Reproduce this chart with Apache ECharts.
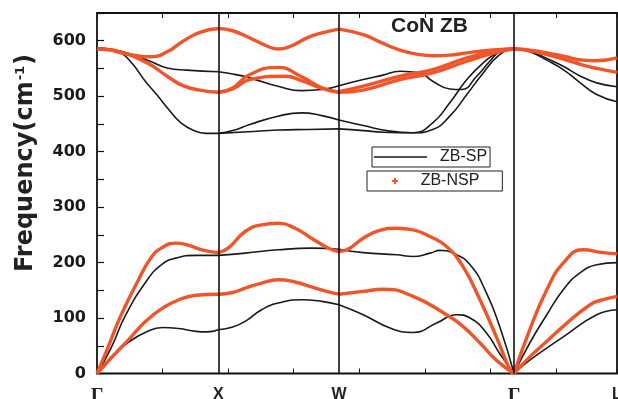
<!DOCTYPE html>
<html>
<head>
<meta charset="utf-8">
<script src="https://cdn.jsdelivr.net/npm/echarts@6/dist/echarts.min.js"></script>
<style>html,body{margin:0;padding:0;background:#fff}#c{width:618px;height:399px}</style>
</head>
<body>
<div id="c"></div>
<script>
// high-symmetry points along the k-path
const KPOS = [0, 1.85, 3.69, 6.36, 7.93];
const KLABELS = ['Γ', 'X', 'W', 'Γ', 'L'];
const Y_LABELS = [0, 100, 200, 300, 400, 500, 600];

// ZB-SP (black) branches, per path segment: [k, frequency cm^-1]
const SP_GX = [
  [[0,0],[0.24,33],[0.49,57],[0.75,75],[1.00,83],[1.25,81],[1.51,76],[1.68,75],[1.85,79]],
  [[0,0],[0.21,45],[0.44,106],[0.75,166],[0.98,196],[1.20,208],[1.51,213],[1.85,213]],
  [[0,587],[0.20,585],[0.37,578],[0.55,557],[0.73,528],[0.91,503],[1.10,475],[1.28,452],[1.48,438],[1.66,433],[1.85,433]],
  [[0,587],[0.37,581],[0.81,563],[1.07,551],[1.37,547],[1.85,544]]
];
const SP_XW = [
  [[1.85,79],[2.07,84],[2.26,94],[2.51,115],[2.76,127],[3.12,133],[3.43,130],[3.69,124]],
  [[1.85,213],[2.26,217],[2.76,223],[3.27,226],[3.69,224]],
  [[1.85,433],[2.30,436],[2.76,439],[3.22,440],[3.69,441]],
  [[1.85,433],[2.07,438],[2.33,449],[2.76,464],[3.12,470],[3.43,465],[3.69,457]],
  [[1.85,544],[2.07,540],[2.33,533],[2.76,518],[3.12,510],[3.43,512],[3.69,519]]
];
const SP_WG = [
  [[3.69,124],[4.06,106],[4.47,82],[4.82,74],[5.18,91],[5.48,106],[5.69,100],[5.94,73],[6.14,36],[6.36,0]],
  [[3.69,224],[4.06,218],[4.57,214],[4.82,211],[5.08,217],[5.23,222],[5.43,217],[5.69,196],[5.94,145],[6.14,85],[6.36,0]],
  [[3.69,441],[4.06,438],[4.36,435],[4.82,434],[5.12,440],[5.38,464],[5.64,503],[5.89,542],[6.14,575],[6.36,587]],
  [[3.69,457],[4.06,447],[4.47,437],[4.82,434],[5.12,452],[5.38,488],[5.64,530],[5.89,560],[6.14,581],[6.36,587]],
  [[3.69,519],[4.06,530],[4.36,538],[4.62,545],[4.92,542],[5.12,527],[5.38,513],[5.56,512],[5.79,536],[5.99,563],[6.14,580],[6.36,587]]
];
const SP_GL = [
  [[6.36,0],[6.60,24],[7.11,66],[7.62,106],[7.93,115]],
  [[6.36,0],[6.60,55],[6.86,106],[7.11,151],[7.36,181],[7.62,196],[7.93,200]],
  [[6.36,587],[6.60,580],[6.86,565],[7.11,548],[7.36,525],[7.62,503],[7.93,490]],
  [[6.36,587],[6.60,582],[6.86,568],[7.11,554],[7.36,537],[7.62,524],[7.93,517]]
];

// ZB-NSP (red) branches
const NSP_GX = [
  [[0,0],[0.24,31],[0.49,62],[0.75,95],[1.00,118],[1.25,133],[1.51,141],[1.85,143]],
  [[0,0],[0.16,45],[0.37,106],[0.62,166],[0.82,208],[0.98,226],[1.20,235],[1.40,231],[1.60,223],[1.85,218]],
  [[0,585],[0.20,584],[0.37,579],[0.55,572],[0.81,557],[1.07,536],[1.31,519],[1.57,511],[1.85,507]],
  [[0,585],[0.20,583],[0.37,578],[0.55,574],[0.81,571],[1.07,580],[1.31,599],[1.57,615],[1.85,622]]
];
const NSP_XW = [
  [[1.85,143],[2.07,146],[2.26,154],[2.51,163],[2.76,169],[3.02,165],[3.27,156],[3.53,147],[3.69,143]],
  [[1.85,218],[2.00,226],[2.26,256],[2.51,268],[2.76,271],[3.02,262],[3.27,244],[3.53,226],[3.69,220]],
  [[1.85,507],[2.07,515],[2.33,539],[2.76,552],[3.12,535],[3.43,515],[3.69,507]],
  [[1.85,507],[2.07,513],[2.33,530],[2.87,536],[3.12,528],[3.43,514],[3.69,507]],
  [[1.85,622],[2.07,618],[2.33,605],[2.60,590],[2.76,585],[2.95,590],[3.22,606],[3.43,614],[3.69,621]]
];
const NSP_WG = [
  [[3.69,143],[4.06,148],[4.36,152],[4.82,139],[5.33,106],[5.58,85],[5.84,55],[6.09,24],[6.36,0]],
  [[3.69,220],[3.81,223],[4.06,244],[4.31,258],[4.57,262],[4.82,259],[5.08,247],[5.33,229],[5.58,193],[5.84,133],[6.09,66],[6.30,6],[6.36,0]],
  [[3.69,508],[4.06,518],[4.62,536],[5.12,548],[5.64,569],[6.09,582],[6.36,585]],
  [[3.69,507],[4.06,511],[4.62,530],[5.12,542],[5.64,563],[6.09,579],[6.36,585]],
  [[3.69,621],[4.06,611],[4.31,598],[4.62,583],[4.92,575],[5.12,573],[5.38,574],[5.64,578],[6.09,584],[6.36,585]]
];
const NSP_GL = [
  [[6.36,0],[6.60,30],[6.86,58],[7.11,85],[7.52,124],[7.72,133],[7.93,139]],
  [[6.36,0],[6.60,79],[6.86,151],[7.11,199],[7.41,223],[7.72,218],[7.93,216]],
  [[6.36,585],[6.60,583],[6.86,578],[7.11,572],[7.41,565],[7.62,564],[7.93,569]],
  [[6.36,585],[6.60,582],[6.86,575],[7.11,567],[7.41,556],[7.62,550],[7.93,543]]
];

const BLACK = '#1a1a1a';
const RED = '#f2542a';
const PLUS = 'path://M2,0H4V2H6V4H4V6H2V4H0V2H2Z';

const series = [];
function addBranches(groups, name, color, width, z) {
  groups.forEach(g => g.forEach(b => series.push({
    type: 'line', name: name, data: b, smooth: 0.5, symbol: 'none',
    lineStyle: { color: color, width: width }, itemStyle: { color: color },
    z: z, silent: true
  })));
}
addBranches([SP_GX, SP_XW, SP_WG, SP_GL], 'ZB-SP', BLACK, 1.6, 3);
addBranches([NSP_GX, NSP_XW, NSP_WG, NSP_GL], 'ZB-NSP', RED, 3.4, 4);

series[0].markLine = {
  silent: true, symbol: ['none', 'none'], animation: false,
  label: { show: false },
  lineStyle: { color: '#111', width: 1.6, type: 'solid' },
  data: KPOS.slice(1, 4).map(k => ({ xAxis: k }))
};

const chart = echarts.init(document.getElementById('c'), null, { renderer: 'canvas' });
chart.setOption({
  animation: false,
  backgroundColor: '#fff',
  title: {
    text: 'CoN ZB', left: 391, top: 16, padding: 0,
    textStyle: { fontFamily: 'Liberation Sans', fontWeight: 'bold', fontSize: 21, color: '#222' }
  },
  grid: { left: 97, right: 1, top: 13, bottom: 25.5, containLabel: false, outerBoundsMode: 'none',
    show: true, borderColor: '#111', borderWidth: 1.8, backgroundColor: 'transparent' },
  legend: [
    {
      data: [{ name: 'ZB-SP', icon: 'rect' }], left: 372, top: 147, selectedMode: false,
      borderColor: '#222', borderWidth: 1, padding: [2, 3, 2, 2],
      itemWidth: 53, itemHeight: 1.6,
      formatter: '{t|{name}}',
      textStyle: { color: '#222', fontFamily: 'Liberation Sans', fontSize: 16,
        rich: { t: { width: 63, height: 15, align: 'center', fontFamily: 'Liberation Sans', fontSize: 16, color: '#222' } } }
    },
    {
      data: [{ name: 'ZB-NSP', icon: PLUS }], left: 367, top: 171, selectedMode: false,
      borderColor: '#222', borderWidth: 1, padding: [2, 23, 2, 25],
      itemWidth: 6, itemHeight: 6,
      formatter: '{t|{name}}',
      textStyle: { color: '#222', fontFamily: 'Liberation Sans', fontSize: 16,
        rich: { t: { width: 94, height: 15, align: 'center', fontFamily: 'Liberation Sans', fontSize: 16, color: '#222' } } }
    }
  ],
  xAxis: [
    {
      type: 'value', min: 0, max: 7.93, interval: 1, position: 'bottom',
      axisLine: { show: false }, splitLine: { show: false },
      axisTick: { show: true, inside: true, length: 5, lineStyle: { color: '#111', width: 1 } },
      axisLabel: {
        customValues: KPOS, margin: 13,
        formatter: function (v) {
          let idx = 0, best = 1e9;
          KPOS.forEach((k, i) => { const d = Math.abs(k - v); if (d < best) { best = d; idx = i; } });
          const s = KLABELS[idx];
          return s === 'Γ' ? '{g|' + s + '}' : '{s|' + s + '}';
        },
        rich: {
          g: { fontFamily: 'Liberation Serif', fontWeight: 'bold', fontSize: 20, color: '#222' },
          s: { fontFamily: 'Liberation Sans', fontWeight: 'bold', fontSize: 16, color: '#222' }
        }
      }
    },
    {
      type: 'value', min: 0, max: 7.93, interval: 1, position: 'top',
      axisLine: { show: false }, splitLine: { show: false }, axisLabel: { show: false },
      axisTick: { show: true, inside: true, length: 5, lineStyle: { color: '#111', width: 1 } }
    }
  ],
  yAxis: {
    type: 'value', min: 0, max: 650, interval: 50,
    axisLine: { show: false }, splitLine: { show: false },
    axisTick: { show: true, inside: true, length: 7, lineStyle: { color: '#111', width: 1.2 } },
    axisLabel: {
      margin: 11, color: '#1a1a1a', fontFamily: 'DejaVu Sans', fontWeight: 'bold', fontSize: 16,
      formatter: v => (Y_LABELS.indexOf(v) >= 0 ? String(v) : '')
    }
  },
  graphic: [{
    type: 'text', x: 26, y: 163, rotation: Math.PI / 2, silent: true,
    style: {
      text: '{a|Frequency(cm}{b|-1}{a|)}', align: 'center', verticalAlign: 'middle',
      rich: {
        a: { fontFamily: 'DejaVu Sans', fontWeight: 'bold', fontSize: 24, fill: '#222' },
        b: { fontFamily: 'DejaVu Sans', fontWeight: 'bold', fontSize: 13, fill: '#222', verticalAlign: 'top', padding: [0, 1, 11, 1] }
      }
    }
  }],
  series: series
});
</script>
</body>
</html>
